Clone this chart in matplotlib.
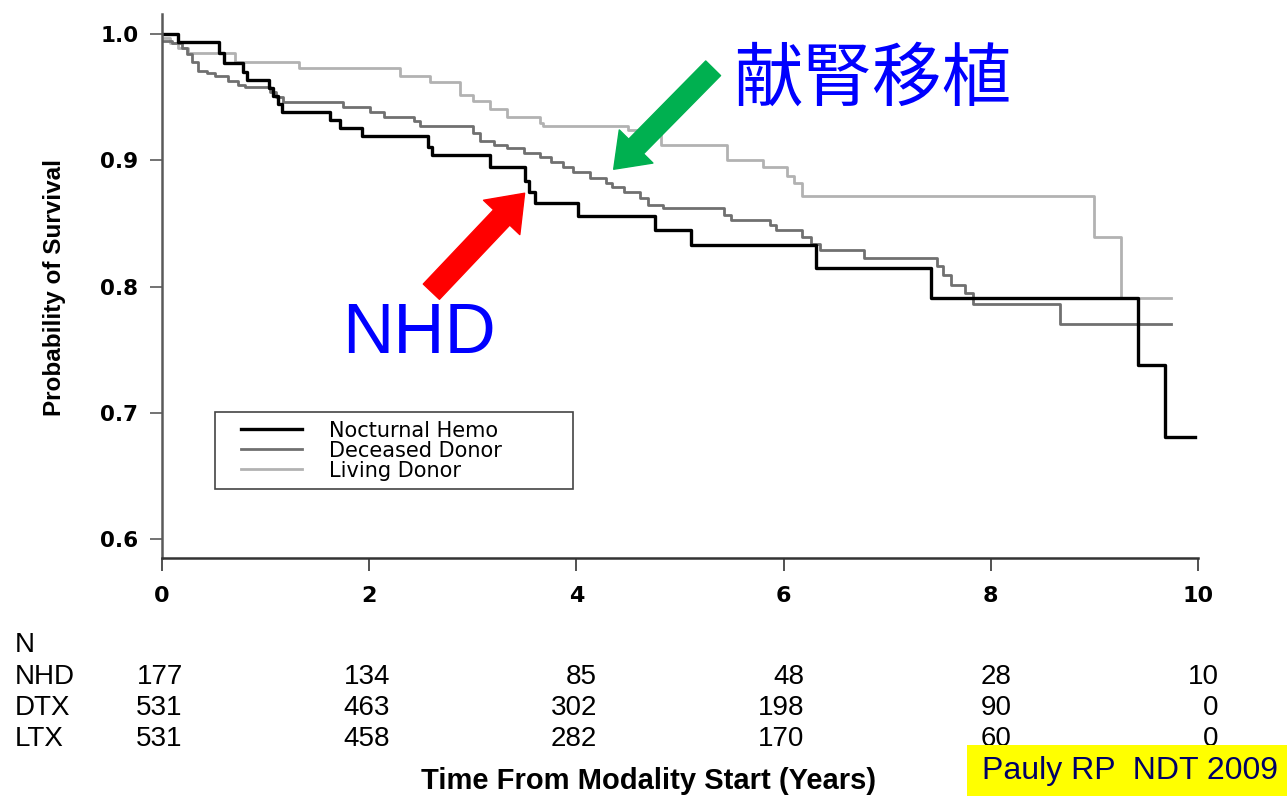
import matplotlib
matplotlib.use('Agg')
import matplotlib.pyplot as plt
from matplotlib.transforms import blended_transform_factory
from matplotlib.legend_handler import HandlerLine2D
from matplotlib.patches import Rectangle

plt.rcParams['font.family'] = ['Liberation Sans', 'DejaVu Sans']

# Kaplan-Meier steps (time in years, survival after the drop)
nhd_t = [0.0, 0.15, 0.55, 0.60, 0.78, 0.82, 1.03, 1.07, 1.12, 1.16, 1.62, 1.72, 1.93,
         2.57, 2.61, 3.17, 3.50, 3.54, 3.60, 4.02, 4.76, 5.11, 6.31, 7.42, 9.42, 9.68, 9.97]
nhd_s = [1.000, 0.994, 0.985, 0.977, 0.970, 0.964, 0.957, 0.951, 0.945, 0.938, 0.932, 0.926, 0.919,
         0.911, 0.904, 0.895, 0.884, 0.875, 0.866, 0.856, 0.845, 0.833, 0.815, 0.791, 0.738, 0.681, 0.681]

dtx_t = [0.0, 0.10, 0.19, 0.24, 0.29, 0.35, 0.43, 0.51, 0.64, 0.73, 0.80, 1.04, 1.10, 1.17,
         1.75, 2.01, 2.14, 2.43, 2.49, 3.00, 3.07, 3.20, 3.33, 3.49, 3.65, 3.75, 3.87, 3.97,
         4.13, 4.29, 4.34, 4.46, 4.61, 4.69, 4.84, 5.42, 5.49, 5.87, 5.93, 6.18, 6.26, 6.35,
         6.78, 7.48, 7.54, 7.62, 7.75, 7.83, 8.67, 9.74]
dtx_s = [0.995, 0.993, 0.989, 0.984, 0.978, 0.971, 0.969, 0.967, 0.963, 0.960, 0.958, 0.954, 0.950, 0.946,
         0.942, 0.938, 0.934, 0.931, 0.927, 0.922, 0.915, 0.912, 0.910, 0.906, 0.903, 0.899, 0.895, 0.891,
         0.886, 0.882, 0.879, 0.875, 0.870, 0.865, 0.862, 0.857, 0.853, 0.849, 0.845, 0.839, 0.834, 0.829,
         0.823, 0.816, 0.809, 0.801, 0.795, 0.786, 0.770, 0.770]

ltx_t = [0.0, 0.08, 0.15, 0.25, 0.70, 1.32, 2.30, 2.59, 2.88, 3.00, 3.17, 3.33, 3.65, 3.68,
         4.50, 4.82, 5.45, 5.80, 6.03, 6.10, 6.18, 9.00, 9.26, 9.74]
ltx_s = [0.997, 0.993, 0.989, 0.985, 0.978, 0.973, 0.967, 0.962, 0.952, 0.947, 0.941, 0.934, 0.930, 0.927,
         0.924, 0.912, 0.900, 0.895, 0.888, 0.882, 0.872, 0.839, 0.791, 0.791]

labels = ['Nocturnal Hemo', 'Deceased Donor', 'Living Donor']
colors = ['#000000', '#707070', '#b2b2b2']

# numbers at risk
risk_times = [0, 2, 4, 6, 8, 10]
risk_groups = ['NHD', 'DTX', 'LTX']
nhd_n = [177, 134, 85, 48, 28, 10]
dtx_n = [531, 463, 302, 198, 90, 0]
ltx_n = [531, 458, 282, 170, 60, 0]


class PadLine(HandlerLine2D):
    # legend line pushed a bit to the right inside its handle box
    def create_artists(self, legend, orig_handle, xdescent, ydescent, width, height, fontsize, trans):
        s = 0.85 * fontsize
        return super().create_artists(legend, orig_handle, xdescent - s, ydescent, width - s,
                                      height, fontsize, trans)


fig = plt.figure(figsize=(12.87, 7.96), dpi=100)
ax = fig.add_axes([162/1287, 1-558/796, 1036/1287, 544/796])

ax.step(ltx_t, ltx_s, where='post', color=colors[2], lw=2.0, label=labels[2])
ax.step(dtx_t, dtx_s, where='post', color=colors[1], lw=2.0, label=labels[1])
ax.step(nhd_t, nhd_s, where='post', color=colors[0], lw=2.4, label=labels[0])

ax.set_xlim(0, 10)
ax.set_ylim(0.585, 1.016)
ax.set_xticks(risk_times)
ax.set_yticks([0.6, 0.7, 0.8, 0.9, 1.0])
ax.set_yticklabels(['0.6', '0.7', '0.8', '0.9', '1.0'])
for s in ['top', 'right']:
    ax.spines[s].set_visible(False)
ax.spines['left'].set_color('#5a5a5a')
ax.spines['left'].set_linewidth(1.8)
ax.spines['bottom'].set_color('#333333')
ax.spines['bottom'].set_linewidth(1.8)
ax.tick_params(axis='y', length=9, width=1.2, color='#5a5a5a', pad=8)
ax.tick_params(axis='x', length=9, width=1.2, color='#333333', pad=11)
for lab in ax.get_yticklabels():
    lab.set_fontweight('bold')
    lab.set_fontsize(15.5)
    lab.set_family('DejaVu Sans')
for lab in ax.get_xticklabels():
    lab.set_fontweight('bold')
    lab.set_fontsize(16)
    lab.set_family('DejaVu Sans')

fig.text(55/1287, 1-287/796, 'Probability of Survival', rotation=90, ha='center', va='center',
         fontsize=17.5, fontweight='bold')
fig.text(649/1287, 1-781/796, 'Time From Modality Start (Years)', ha='center', va='center',
         fontsize=21, fontweight='bold')

h, l = ax.get_legend_handles_labels()
leg = ax.legend(h[::-1], l[::-1], loc='upper left', bbox_to_anchor=(0.0508, 0.0, 0.3456, 0.268),
                mode='expand', borderaxespad=0, prop={'family': 'DejaVu Sans', 'size': 15},
                fancybox=False, edgecolor='#444444', framealpha=1,
                handlelength=3.8, handletextpad=1.3, labelspacing=0.0, borderpad=0.4,
                handler_map={l_: PadLine() for l_ in h})
leg.get_frame().set_linewidth(1.2)

# numbers at risk table
tr = blended_transform_factory(ax.transData, fig.transFigure)
fig.text(15/1287, 1-645/796, 'N', fontsize=20, ha='left', va='center')
for i, (g, row) in enumerate(zip(risk_groups, [nhd_n, dtx_n, ltx_n])):
    yy = 1-(677 + i*31)/796
    fig.text(15/1287, yy, g, fontsize=20, ha='left', va='center')
    for t, n in zip(risk_times, row):
        ax.text(t + 0.2, yy, str(n), transform=tr, fontsize=20, ha='right', va='center', clip_on=False)

# arrows and labels
ax.annotate('', xy=(3.50, 0.874), xytext=(2.60, 0.796),
            arrowprops=dict(width=16, headwidth=36, headlength=24, color='#ff0000', shrink=0))
ax.annotate('', xy=(4.36, 0.893), xytext=(5.32, 0.973),
            arrowprops=dict(width=15, headwidth=34, headlength=23, color='#00b050', shrink=0))
ax.text(2.48, 0.7616, 'NHD', color='#0000ff', fontsize=51, ha='center', va='center')
ax.text(6.85, 0.964, '献腎移植', color='#0000ff', fontsize=50, ha='center', va='center',
        family=['Noto Sans CJK JP', 'DejaVu Sans'])

fig.add_artist(Rectangle((967/1287, 0), 320/1287, 51/796, transform=fig.transFigure,
                         facecolor='#ffff00', edgecolor='none'))
fig.text(982/1287, 1-771/796, 'Pauly RP  NDT 2009', fontsize=23, color='#000066',
         ha='left', va='center')

fig.savefig('out.png', dpi=100, facecolor='white')
